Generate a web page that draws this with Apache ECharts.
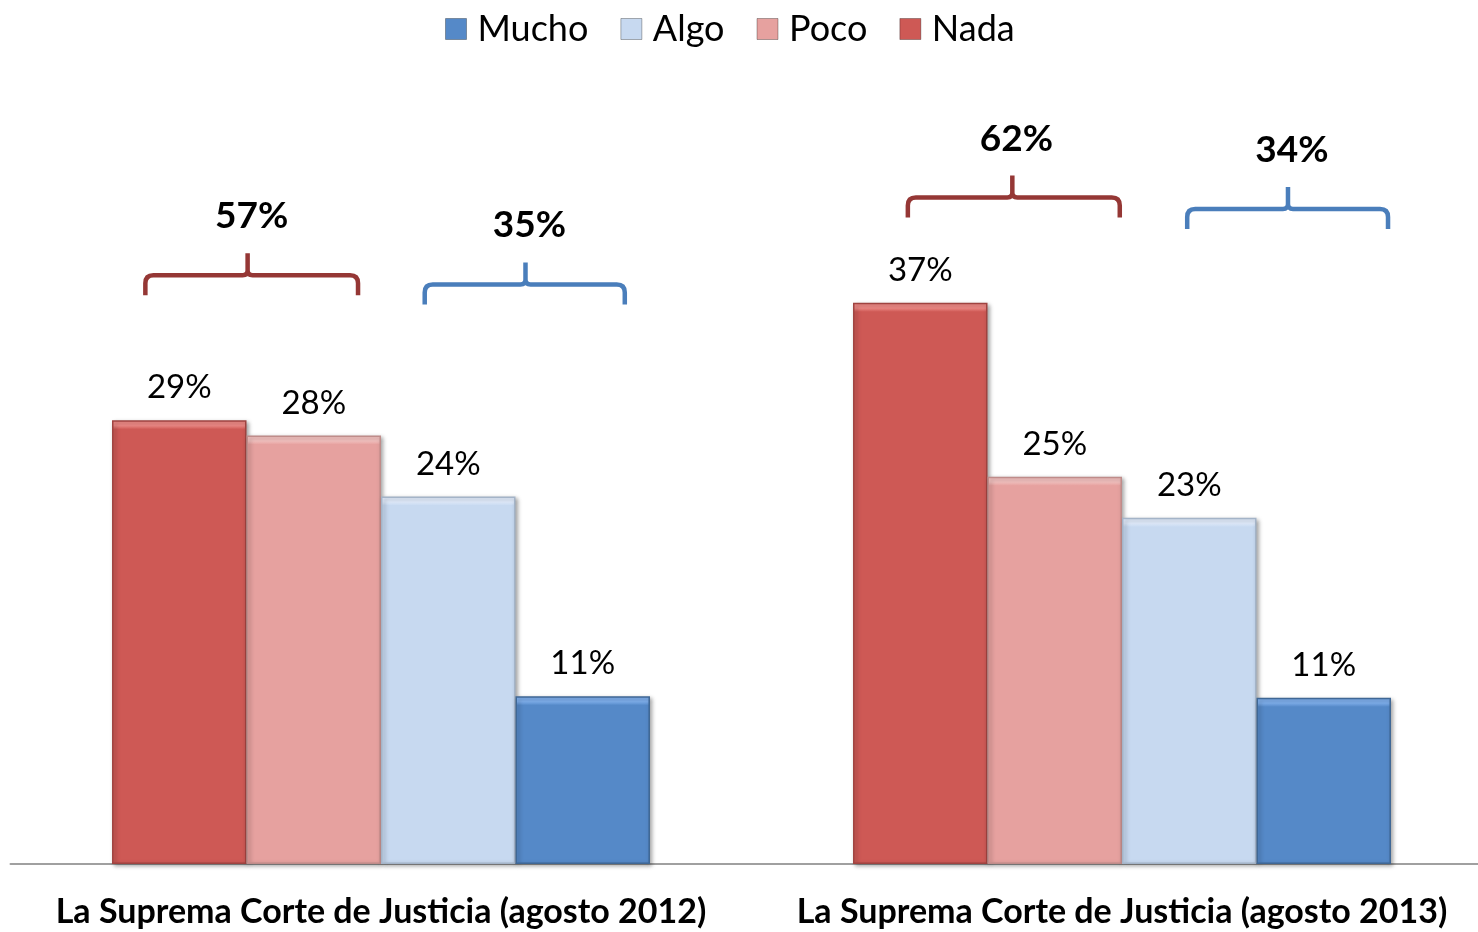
<!DOCTYPE html>
<html>
<head>
<meta charset="utf-8">
<script src="https://cdn.jsdelivr.net/npm/echarts@6/dist/echarts.min.js"></script>
<style>
html,body{margin:0;padding:0;background:#fff;overflow:hidden;}
#chart{width:1500px;height:932px;}
</style>
</head>
<body>
<div id="chart"></div>
<script>
// ---- data ----
const categories = ['La Suprema Corte de Justicia (agosto 2012)', 'La Suprema Corte de Justicia (agosto 2013)'];
const legendOrder = ['Mucho', 'Algo', 'Poco', 'Nada'];
const nada = [29.1, 36.8];
const poco = [28.1, 25.4];
const algo = [24.1, 22.7];
const mucho = [11.0, 10.9];

// ---- layout / style (not data) ----
const FONT = 'Lato, "Open Sans", sans-serif';
const GRID = { left: 10.5, width: 1482, top: 101.5, bottom: 68 };
const Y_MAX = 50;
const PX_PER_UNIT = (932 - GRID.top - GRID.bottom) / Y_MAX;
const colors = { Nada: '#ce5955', Poco: '#e6a19f', Algo: '#c7d9f0', Mucho: '#5589c8' };
const tops = { Nada: '#f08a86', Poco: '#f7c4c2', Algo: '#e4efff', Mucho: '#7fb0ee' };
const borders = { Nada: '#9f4340', Poco: '#bf8c8a', Algo: '#a4b4c8', Mucho: '#3f6795' };
const bracketColor = { neg: '#953735', pos: '#4a7ebb' };
// bracket geometry: level in value units, left/right/tip as fraction of category band from its center
const bracketLayout = [
  { side: 'neg', level: [38.6, 43.7], left: [-0.318, -0.289], right: [-0.031, -0.003], tip: [-0.180, -0.148] },
  { side: 'pos', level: [38.0, 42.95], left: [0.059, 0.088], right: [0.329, 0.359], tip: [0.195, 0.224] }
];

const rnd = v => Math.round(v);
const negTotals = nada.map((v, i) => rnd(v) + rnd(poco[i]));
const posTotals = algo.map((v, i) => rnd(v) + rnd(mucho[i]));

const bracketData = [];
categories.forEach((c, i) => {
  bracketData.push([i, bracketLayout[0].level[i], negTotals[i], 0]);
  bracketData.push([i, bracketLayout[1].level[i], posTotals[i], 1]);
});

function barSeries(name, data) {
  return {
    name: name,
    type: 'bar',
    barGap: '0%',
    barCategoryGap: '27.4%',
    data: data.map(v => {
      const k = Math.min(0.2, 9 / (v * PX_PER_UNIT));
      return {
        value: v,
        itemStyle: {
          color: {
            type: 'linear', x: 0, y: 0, x2: 0, y2: 1,
            colorStops: [
              { offset: 0, color: tops[name] },
              { offset: k * 0.6, color: tops[name] },
              { offset: k, color: colors[name] },
              { offset: 1, color: colors[name] }
            ]
          }
        }
      };
    }),
    itemStyle: {
      color: colors[name],
      borderColor: borders[name],
      borderWidth: 1.5,
      shadowColor: 'rgba(0,0,0,0.35)',
      shadowBlur: 4,
      shadowOffsetX: 2,
      shadowOffsetY: 2
    },
    label: {
      show: true,
      position: 'top',
      distance: 16,
      formatter: p => rnd(p.value) + '%',
      fontFamily: FONT,
      fontSize: 33,
      color: '#000'
    }
  };
}

const chart = echarts.init(document.getElementById('chart'));
chart.setOption({
  animation: false,
  backgroundColor: '#ffffff',
  color: [colors.Nada, colors.Poco, colors.Algo, colors.Mucho],
  legend: {
    data: legendOrder,
    top: 6,
    left: 440,
    itemWidth: 21,
    itemHeight: 21,
    itemGap: 32,
    icon: 'rect',
    itemStyle: { borderColor: 'rgba(0,0,0,0.3)', borderWidth: 1 },
    textStyle: { fontFamily: FONT, fontSize: 36, color: '#000', padding: [0, 0, 0, 6] }
  },
  grid: { left: GRID.left, width: GRID.width, top: GRID.top, bottom: GRID.bottom, containLabel: false },
  xAxis: {
    type: 'category',
    data: categories,
    axisLine: { show: true, lineStyle: { color: '#a0a0a0', width: 2 } },
    axisTick: { show: false },
    axisLabel: { interval: 0, fontFamily: FONT, fontWeight: 'bold', fontSize: 34, color: '#000', margin: 31 }
  },
  yAxis: {
    type: 'value',
    min: 0,
    max: Y_MAX,
    show: false,
    splitLine: { show: false }
  },
  series: [
    barSeries('Nada', nada),
    barSeries('Poco', poco),
    barSeries('Algo', algo),
    barSeries('Mucho', mucho),
    {
      type: 'custom',
      name: 'brackets',
      silent: true,
      data: bracketData,
      encode: { x: 0, y: 1 },
      z: 5,
      renderItem: function (params, api) {
        const ci = api.value(0);
        const lvl = api.value(1);
        const total = api.value(2);
        const si = api.value(3);
        const lay = bracketLayout[si];
        const p = api.coord([ci, lvl]);
        const band = api.size([1, 0])[0];
        const cx = p[0], y = p[1];
        const L = cx + lay.left[ci] * band;
        const R = cx + lay.right[ci] * band;
        const T = cx + lay.tip[ci] * band;
        const d = 20, r = 8, tr = 5, th = 22;
        const path =
          'M' + L + ',' + (y + d) + ' L' + L + ',' + (y + r) + ' Q' + L + ',' + y + ' ' + (L + r) + ',' + y +
          ' L' + (T - tr) + ',' + y + ' Q' + T + ',' + y + ' ' + T + ',' + (y - tr) + ' L' + T + ',' + (y - th) +
          ' M' + R + ',' + (y + d) + ' L' + R + ',' + (y + r) + ' Q' + R + ',' + y + ' ' + (R - r) + ',' + y +
          ' L' + (T + tr) + ',' + y + ' Q' + T + ',' + y + ' ' + T + ',' + (y - tr);
        const col = bracketColor[lay.side];
        return {
          type: 'group',
          children: [
            {
              type: 'path',
              shape: { pathData: path },
              style: { fill: null, stroke: col, lineWidth: 4.5, lineCap: 'butt', lineJoin: 'round' }
            },
            {
              type: 'text',
              x: T + 4,
              y: y - th - 37,
              style: {
                text: total + '%',
                fontFamily: FONT,
                fontWeight: 'bold',
                fontSize: 37,
                fill: '#000',
                align: 'center',
                verticalAlign: 'middle'
              }
            }
          ]
        };
      }
    }
  ]
});
</script>
</body>
</html>
